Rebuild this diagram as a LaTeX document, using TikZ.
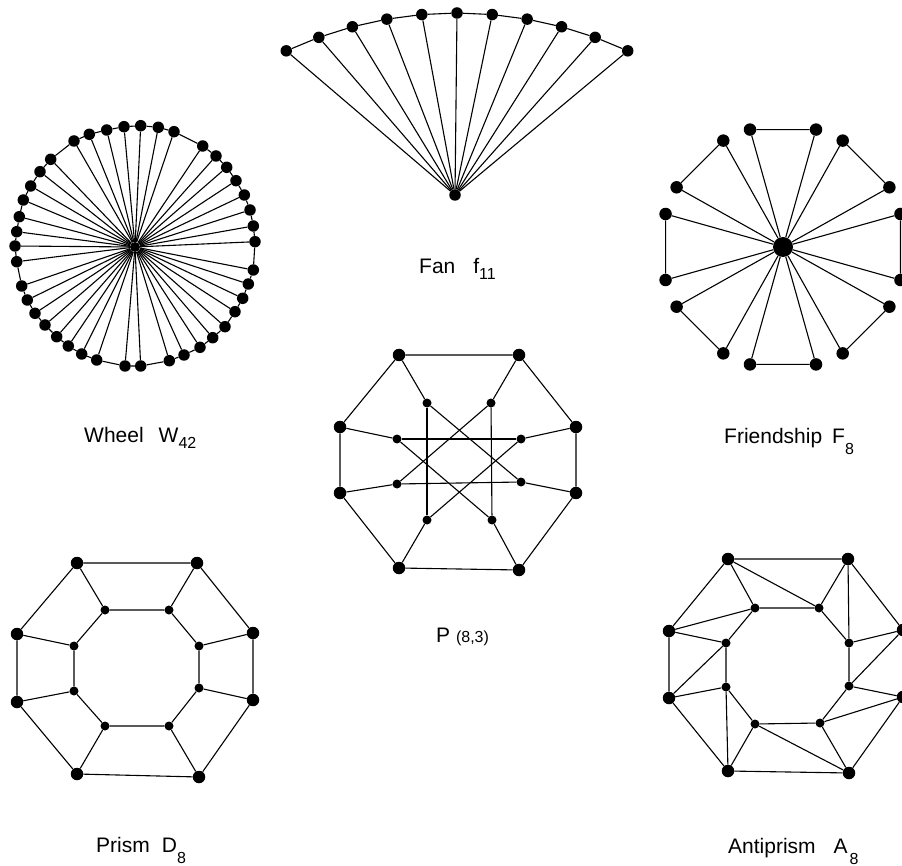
\documentclass[tikz,border=0pt]{standalone}
\usepackage{fontspec}
\setmainfont{Liberation Sans}
\newcommand{\lowidx}[2]{\raisebox{-#1pt}{\fontsize{16}{18}\selectfont #2}}
\begin{document}
\begin{tikzpicture}[
    x=1pt, y=-1pt,
    font=\fontsize{21}{25}\selectfont,
    bigdot/.style={circle, fill=black, inner sep=0pt, minimum size=12.5pt},
    smalldot/.style={circle, fill=black, inner sep=0pt, minimum size=9pt},
    rimdot/.style={circle, fill=black, inner sep=0pt, minimum size=11.5pt},
    hubdot/.style={circle, fill=black, inner sep=0pt, minimum size=20pt},
    edge/.style={line width=1.1pt},
    caption/.style={anchor=base west, inner sep=0pt}
]
\useasboundingbox (0,0) rectangle (902,866);

\node[circle, fill=black, inner sep=0pt, minimum size=10pt] (wc) at (135,247) {};
\foreach \px/\py [count=\i] in {255/241.7, 253.3/226, 250/210, 244.3/195, 236/180.7, 226.7/167.3, 216/156, 202.7/146,
    174/131.7, 158.3/127.3, 140.7/125.7, 124/126.7, 106.7/130, 89.3/134.3, 74/141,
    50.7/159.3, 40/171.7, 30.7/186, 23.3/200, 19.3/216.7, 16.7/231.7, 15/246, 16.7/261.7,
    21.7/286, 27.3/300, 35/313.3, 45/325, 56.7/336.7, 68.3/346, 81.7/354, 96.7/360,
    125/366, 140.7/366,
    169.3/360.7, 184/355, 200/347.3, 212.7/337.7, 225/326.7, 235/311.7, 242.7/298.3, 248.3/284, 253.3/270}
    \node[rimdot] (w\i) at (\px,\py) {};
\foreach \i [remember=\i as \j (initially 42)] in {1,...,42}
    \draw[edge] (w\j) -- (w\i) (wc) -- (w\i);

\node[rimdot] (fc) at (455,195) {};
\foreach \a [count=\i] in {115,110,...,65}
    \node[rimdot] (f\i) at ({457+404*cos(\a)},{417-404*sin(\a)}) {};
\foreach \i [remember=\i as \j (initially 1)] in {2,...,11}
    \draw[edge] (f\j) -- (f\i);
\foreach \i in {1,...,11}
    \draw[edge] (fc) -- (f\i);

\node[hubdot] (hc) at (783,247) {};
\foreach \k in {0,...,7} {
    \node[bigdot] (ha\k) at ({783+122*cos(45*\k-15.7)},{247-122*sin(45*\k-15.7)}) {};
    \node[bigdot] (hb\k) at ({783+122*cos(45*\k+15.7)},{247-122*sin(45*\k+15.7)}) {};
    \draw[edge] (ha\k) -- (hb\k) -- (hc) -- (ha\k);
}

\foreach \px/\py [count=\i] in {399/355, 519/355, 576/427, 576/493, 519/570, 399/568, 340/493, 340/427}
    \node[bigdot] (po\i) at (\px,\py) {};
\foreach \px/\py [count=\i] in {427/403, 491/403, 521/439, 521/482, 492/520, 427/520, 397/484, 397/439}
    \node[smalldot] (pi\i) at (\px,\py) {};
\foreach \i [remember=\i as \j (initially 8)] in {1,...,8}
    \draw[edge] (po\j) -- (po\i) (po\i) -- (pi\i);
\foreach \i/\j in {1/4, 2/5, 3/6, 4/7, 5/8, 6/1, 7/2, 8/3}
    \draw[edge] (pi\i) -- (pi\j);

\foreach \px/\py [count=\i] in {77/563, 197/563, 253/633, 253/700, 199/777, 77/774, 17/702, 17/634}
    \node[bigdot] (do\i) at (\px,\py) {};
\foreach \px/\py [count=\i] in {105/610, 169/610, 199/646, 199/688, 169/726, 105/726, 74/691, 74/646}
    \node[smalldot] (di\i) at (\px,\py) {};
\foreach \i [remember=\i as \j (initially 8)] in {1,...,8}
    \draw[edge] (do\j) -- (do\i) (di\j) -- (di\i) (do\i) -- (di\i);

\foreach \px/\py [count=\i] in {728/559, 848/559, 903/630, 903/697, 849/773, 728/771, 669/698, 669/631}
    \node[bigdot] (ao\i) at (\px,\py) {};
\foreach \px/\py [count=\i] in {755/608, 819/608, 849/643, 849/686, 820/723, 755/724, 726/687, 726/643}
    \node[smalldot] (ai\i) at (\px,\py) {};
\foreach \i [remember=\i as \j (initially 8)] in {1,...,8}
    \draw[edge] (ao\j) -- (ao\i) (ai\j) -- (ai\i) (ao\i) -- (ai\i);
\foreach \i/\j in {1/2, 2/3, 3/4, 4/5, 5/6, 6/7, 7/8, 8/1}
    \draw[edge] (ao\i) -- (ai\j);

\node[caption] (wlbl) at (84,442) {Wheel\hspace{15pt}W\lowidx{6}{42}};
\node[caption] (flbl) at (419,274) {Fan\hspace{18pt}f\lowidx{6}{11}};
\node[caption] (hlbl) at (724,443) {Friendship\hspace{10pt}F\lowidx{11}{8}};
\node[caption] (plbl) at (436,642) {P {\fontsize{16}{18}\selectfont(8,3)}};
\node[caption] (dlbl) at (96,852) {Prism\hspace{12pt}D\lowidx{11}{8}};
\node[caption] (albl) at (728,853) {Antiprism\hspace{18pt}A\hspace{2pt}\lowidx{11}{8}};
\end{tikzpicture}
\end{document}
